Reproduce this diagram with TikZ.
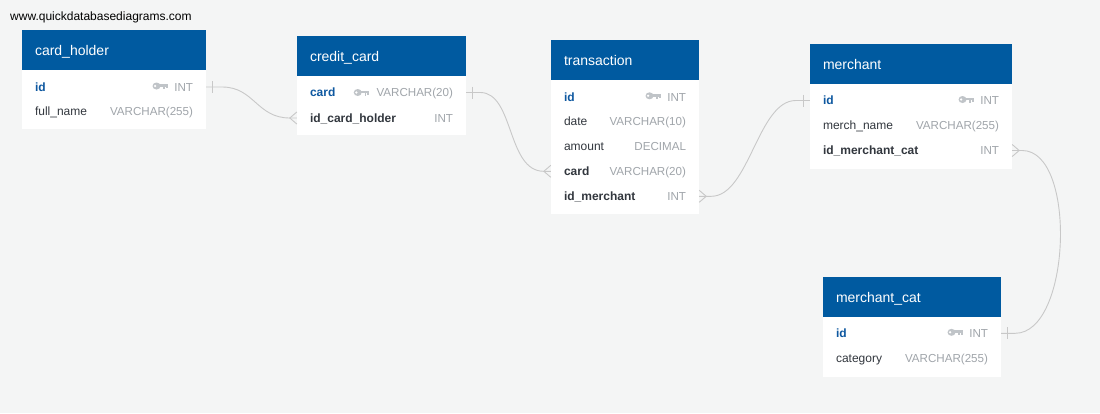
\documentclass[tikz,border=0pt]{standalone}
\usepackage{fontspec}
\setmainfont{Liberation Sans}
\usetikzlibrary{calc}
\definecolor{bg}{RGB}{244,245,245}
\definecolor{hdrblue}{RGB}{0,90,160}
\definecolor{linegray}{RGB}{200,200,200}
\definecolor{fielddark}{RGB}{50,55,62}
\definecolor{pkblue}{RGB}{14,88,160}
\definecolor{typegray}{RGB}{160,165,170}
\definecolor{keygray}{RGB}{192,196,200}
\tikzset{
  hdr/.style={fill=hdrblue, draw=none, inner sep=0pt},
  hdrtxt/.style={text=white, font=\fontsize{14}{16}\selectfont, inner sep=0pt},
  bodybox/.style={fill=white, draw=none, inner sep=0pt},
  rowbox/.style={draw=none, inner sep=0pt, minimum height=24pt},
  fld/.style={text=fielddark, font=\fontsize{12}{14}\selectfont, inner sep=0pt},
  fkfld/.style={text=fielddark, font=\fontsize{12}{14}\selectfont\bfseries, inner sep=0pt},
  pkfld/.style={text=pkblue, font=\fontsize{12}{14}\selectfont\bfseries, inner sep=0pt},
  typ/.style={text=typegray, font=\fontsize{11.6}{14}\selectfont, inner sep=0pt},
  conn/.style={draw=linegray, line width=0.9pt},
  pkkey/.pic={
    \fill[keygray] (-3.6,0) ellipse [x radius=4.0, y radius=3.5];
    \fill[white] (-5.0,0) circle [radius=1.3];
    \fill[keygray] (-1,-1.9) rectangle (7.6,0.8);
    \fill[keygray] (3.2,0.8) rectangle (5.0,3.0);
    \fill[keygray] (5.8,0.8) rectangle (7.6,2.4);
  }
}
% table: name, left, right, header top, body bottom, title
\newcommand\erttable[6]{%
  \node[hdr, minimum width={#3-#2}, minimum height=40pt] (#1) at ({(#2+#3)/2},{#4+20}) {};
  \node[hdrtxt, anchor=base west] (#1-title) at ($(#1.west)+(13,5)$) {#6};
  \node[bodybox, minimum width={#3-#2}, minimum height={#5-#4-40}] (#1-body) at ({(#2+#3)/2},{(#4+40+#5)/2}) {};
}
% row: name, left, right, y, field text, field style, type
\newcommand\ertrow[7]{%
  \node[rowbox, minimum width={#3-#2}] (#1) at ({(#2+#3)/2},#4) {};
  \node[#6, anchor=base west] (#1-n) at ($(#1.west)+(13,4.3)$) {#5};
  \node[typ, anchor=base east] (#1-t) at ($(#1.east)+(-13,4.3)$) {#7};
}
\newcommand\crowR[1]{% crow's foot opening at a right table edge
  \draw[conn] ($(#1.east)+(0,-6)$) -- ($(#1.east)+(7,0)$) -- ($(#1.east)+(0,6)$);}
\newcommand\crowL[1]{% crow's foot at a left table edge
  \draw[conn] ($(#1.west)+(0,-6)$) -- ($(#1.west)+(-7,0)$) -- ($(#1.west)+(0,6)$);}
\newcommand\tickR[1]{\draw[conn] ($(#1.east)+(6,-6)$) -- ($(#1.east)+(6,6)$);}
\newcommand\tickL[1]{\draw[conn] ($(#1.west)+(-6,-6)$) -- ($(#1.west)+(-6,6)$);}
\begin{document}
\begin{tikzpicture}[x=1pt,y=-1pt]
\fill[bg] (0,0) rectangle (1100,413);
\useasboundingbox (0,0) rectangle (1100,413);
\node[anchor=base west, inner sep=0pt, font=\fontsize{12}{14}\selectfont, text=black] (url) at (10,20.3) {www.quickdatabasediagrams.com};

% card_holder
\erttable{ch}{22}{206}{30}{129}{card\_holder}
\ertrow{chid}{22}{206}{87}{id}{pkfld}{INT}
\pic at ($(chid-t.west)+(-14,-1.3)$) {pkkey};
\ertrow{chfn}{22}{206}{111.5}{full\_name}{fld}{VARCHAR(255)}

% credit_card
\erttable{cc}{297}{466}{36}{135}{credit\_card}
\ertrow{cccard}{297}{466}{92.5}{card}{pkfld}{VARCHAR(20)}
\pic at ($(cccard-t.west)+(-15,-1.3)$) {pkkey};
\ertrow{ccidch}{297}{466}{118}{id\_card\_holder}{fkfld}{INT}

% transaction
\erttable{tr}{551}{699}{40}{214}{transaction}
\ertrow{trid}{551}{699}{96.8}{id}{pkfld}{INT}
\pic at ($(trid-t.west)+(-14,-1.3)$) {pkkey};
\ertrow{trdate}{551}{699}{121.6}{date}{fld}{VARCHAR(10)}
\ertrow{tramount}{551}{699}{146.5}{amount}{fld}{DECIMAL}
\ertrow{trcard}{551}{699}{171.3}{card}{fkfld}{VARCHAR(20)}
\ertrow{trmer}{551}{699}{196.3}{id\_merchant}{fkfld}{INT}

% merchant
\erttable{me}{810}{1012}{44}{168.5}{merchant}
\ertrow{meid}{810}{1012}{100.5}{id}{pkfld}{INT}
\pic at ($(meid-t.west)+(-14,-1.3)$) {pkkey};
\ertrow{mename}{810}{1012}{125.5}{merch\_name}{fld}{VARCHAR(255)}
\ertrow{mecat}{810}{1012}{150.5}{id\_merchant\_cat}{fkfld}{INT}

% merchant_cat
\erttable{mc}{823}{1001}{277}{377}{merchant\_cat}
\ertrow{mcid}{823}{1001}{333.3}{id}{pkfld}{INT}
\pic at ($(mcid-t.west)+(-14,-1.3)$) {pkkey};
\ertrow{mccat}{823}{1001}{358.5}{category}{fld}{VARCHAR(255)}

% connectors
\draw[conn] (chid.east) -- ++(16,0) .. controls ++(32,0) and ($(ccidch.west)+(-40,0)$) .. ($(ccidch.west)+(-7,0)$) -- (ccidch.west);
\tickR{chid}\crowL{ccidch}

\draw[conn] (cccard.east) -- ++(14,0) .. controls ++(34,0) and ($(trcard.west)+(-44,0)$) .. ($(trcard.west)+(-7,0)$) -- (trcard.west);
\tickR{cccard}\crowL{trcard}

\draw[conn] (trmer.east) -- ++(12,0) .. controls ++(38,0) and ($(meid.west)+(-52,0)$) .. ($(meid.west)+(-14,0)$) -- (meid.west);
\crowR{trmer}\tickL{meid}

\draw[conn] (mecat.east) -- ++(10,0) .. controls ++(55,0) and ($(mcid.east)+(70,0)$) .. ($(mcid.east)+(14,0)$) -- (mcid.east);
\crowR{mecat}\tickR{mcid}
\end{tikzpicture}
\end{document}
